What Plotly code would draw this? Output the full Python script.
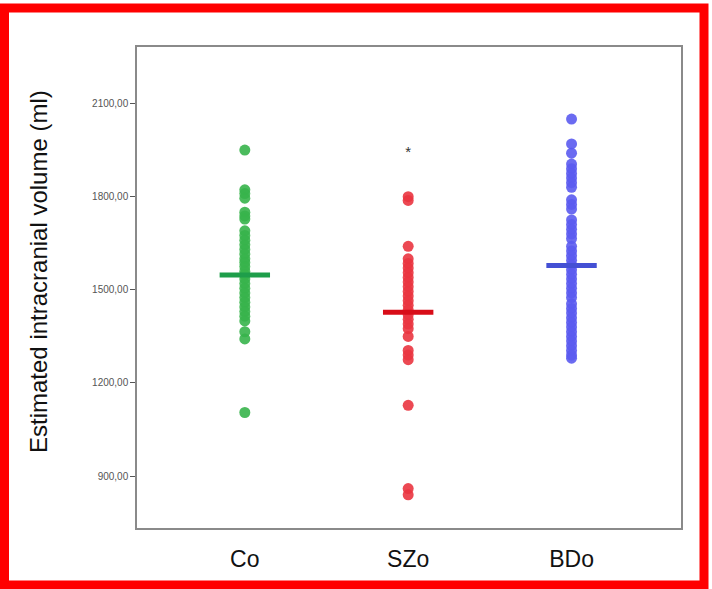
import plotly.graph_objects as go

# ---- data ----
categories = ["Co", "SZo", "BDo"]
co_values = [1950, 1822, 1810, 1795, 1750, 1738, 1728, 1690, 1675, 1660, 1645, 1630,
             1615, 1600, 1588, 1575, 1560, 1548, 1535, 1520, 1505, 1490, 1475, 1460,
             1445, 1430, 1415, 1400, 1365, 1342, 1105]
szo_values = [1800, 1788, 1640, 1600, 1585, 1570, 1555, 1540, 1525, 1510, 1495, 1480,
              1465, 1450, 1435, 1420, 1405, 1390, 1375, 1350, 1305, 1290, 1275, 1128,
              860, 840]
bdo_values = [2050, 1970, 1940, 1905, 1890, 1875, 1860, 1845, 1830, 1790, 1775, 1760,
              1725, 1710, 1695, 1680, 1665, 1640, 1625, 1610, 1595, 1580, 1565, 1550,
              1535, 1520, 1505, 1490, 1475, 1455, 1440, 1425, 1410, 1395, 1380, 1365,
              1350, 1335, 1320, 1305, 1290, 1280]
group_means = [1548, 1428, 1578]
outlier_group = 1
outlier_value = 1940
ytick_values = [900, 1200, 1500, 1800, 2100]
ytick_labels = ["900,00", "1200,00", "1500,00", "1800,00", "2100,00"]

dot_colors = ["#37b44b", "#ea3540", "#5b5bf0"]
mean_colors = ["#1e9e4a", "#d80d18", "#4450d4"]

# ---- layout geometry ----
FIG_W, FIG_H = 712, 589
L, R, T, B = 137, 31, 47, 61
PW, PH = FIG_W - L - R, FIG_H - T - B


def px_x(px):
    return (px - L) / PW


def px_y(py):
    return (FIG_H - B - py) / PH


fig = go.Figure()
series = [co_values, szo_values, bdo_values]
for i, vals in enumerate(series):
    fig.add_trace(go.Scatter(
        x=[i] * len(vals), y=vals, mode="markers",
        marker=dict(size=11, color=dot_colors[i], opacity=0.9, line=dict(width=0)),
        showlegend=False, hoverinfo="y"))
for i, m in enumerate(group_means):
    fig.add_trace(go.Scatter(
        x=[i], y=[m], mode="markers",
        marker=dict(symbol="line-ew", size=36,
                    line=dict(width=5, color=mean_colors[i])),
        showlegend=False, hoverinfo="y"))

fig.add_trace(go.Scatter(
    x=[outlier_group], y=[outlier_value], mode="text", text=["*"],
    textfont=dict(size=15, color="#333333", family="Liberation Sans, Arial"),
    textposition="middle center", showlegend=False, hoverinfo="y"))

fig.update_xaxes(
    range=[-0.66, 2.67], tickvals=[0, 1, 2], ticktext=categories,
    showgrid=False, zeroline=False, showline=True, mirror=True,
    linecolor="#8a8a8a", linewidth=1.5,
    ticks="outside", ticklen=10, tickcolor="rgba(0,0,0,0)",
    tickfont=dict(size=23, color="#111111", family="Liberation Sans, Arial"))
fig.update_yaxes(
    range=[733, 2282], tickvals=ytick_values, ticktext=ytick_labels,
    showgrid=False, zeroline=False, showline=True, mirror=True,
    linecolor="#8a8a8a", linewidth=1.5,
    ticks="outside", ticklen=5, tickcolor="#555555", tickwidth=1,
    tickfont=dict(size=10, color="#555555", family="Liberation Sans, Arial"))

fig.add_annotation(
    text="Estimated intracranial volume (ml)", textangle=-90,
    xref="paper", yref="paper", x=px_x(38), y=px_y(272),
    xanchor="center", yanchor="middle", showarrow=False,
    font=dict(size=24, color="#111111", family="Liberation Sans, Arial"))

fig.add_shape(
    type="rect", xref="paper", yref="paper",
    x0=px_x(4.5), x1=px_x(704), y0=px_y(8), y1=px_y(585),
    line=dict(color="#ff0000", width=9), fillcolor="rgba(0,0,0,0)", layer="above")

fig.update_layout(
    width=FIG_W, height=FIG_H,
    margin=dict(l=L, r=R, t=T, b=B),
    paper_bgcolor="white", plot_bgcolor="white",
    showlegend=False)

fig.write_html(
    "out.html",
    config={"displayModeBar": False},
    post_script="document.body.style.margin='0';document.body.style.overflow='hidden';")
